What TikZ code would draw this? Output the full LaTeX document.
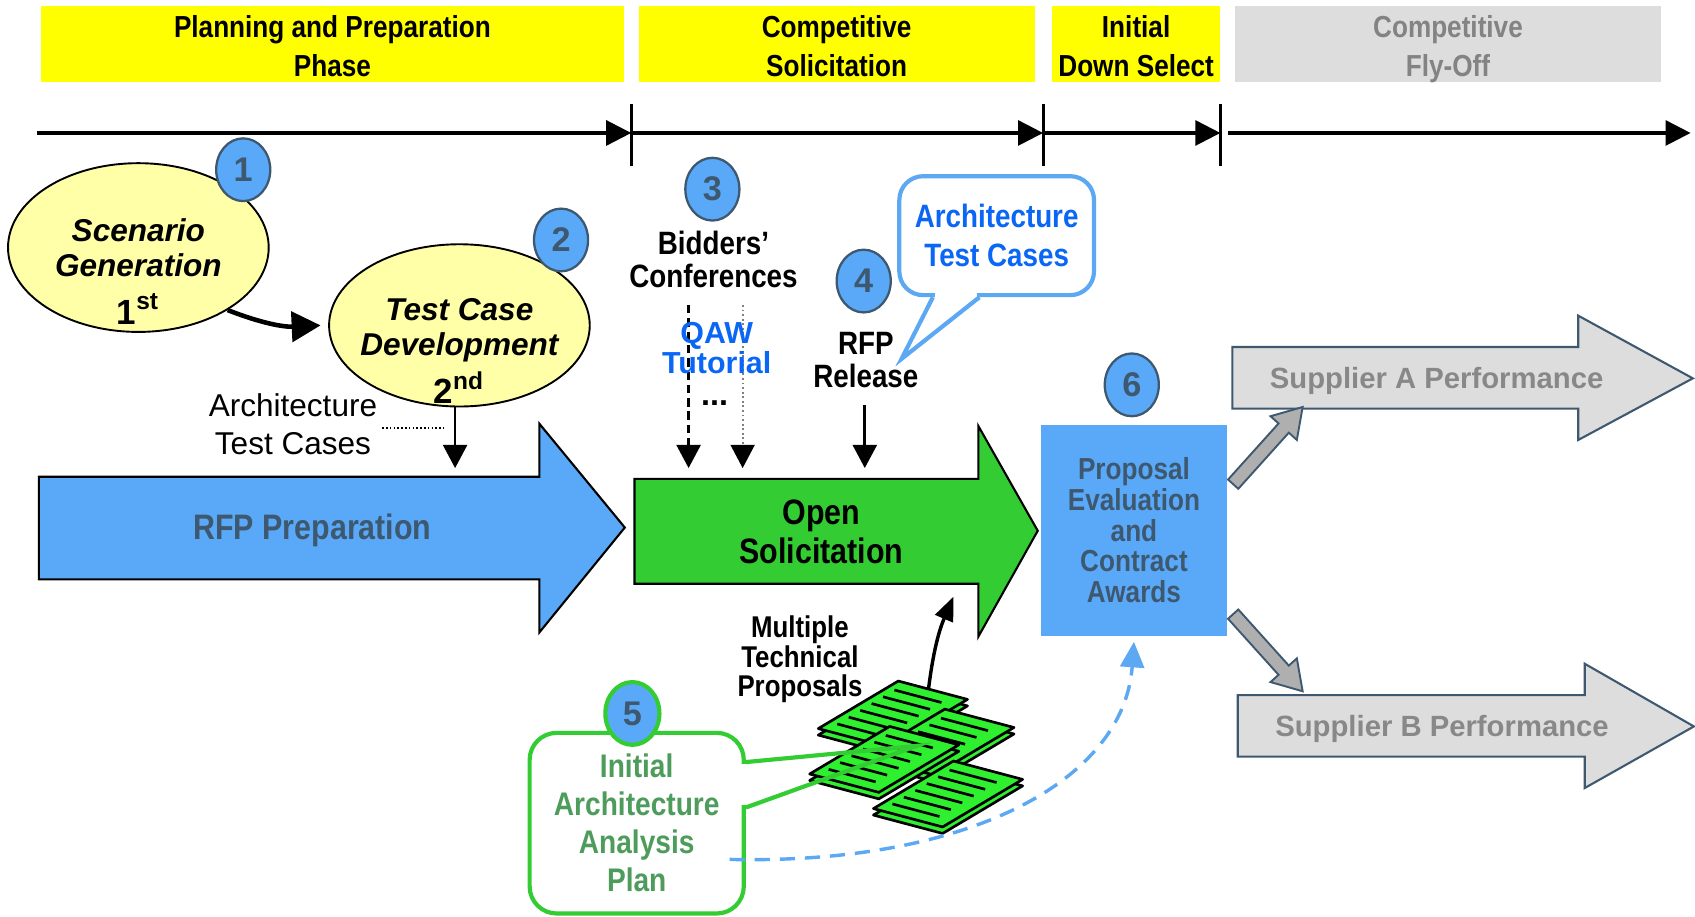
\documentclass[tikz,border=0pt]{standalone}
\usepackage{fontspec}
\setmainfont{Liberation Sans}
\newfontfamily\narrowfont{Liberation Sans}[FakeStretch=0.86]
\usetikzlibrary{arrows.meta,shapes.geometric,shapes.arrows,positioning}

\definecolor{phaseyellow}{HTML}{FFFF00}
\definecolor{flygray}{HTML}{DDDDDD}
\definecolor{flytext}{HTML}{838383}
\definecolor{supplygray}{HTML}{888888}
\definecolor{paleyellow}{HTML}{FFFFA8}
\definecolor{stepblue}{HTML}{59A9F8}
\definecolor{slate}{HTML}{3E5870}
\definecolor{solgreen}{HTML}{33CC33}
\definecolor{papergreen}{HTML}{2EF02E}
\definecolor{plangreen}{HTML}{4E9C5C}
\definecolor{linkblue}{HTML}{0A66F5}
\definecolor{bubbleblue}{HTML}{5CA8F2}
\definecolor{shaftgray}{HTML}{AFAFAF}

\tikzset{
  phase/.style={fill=phaseyellow, minimum height=0.70cm, inner sep=0pt, align=center,
    text height=17pt, text depth=0pt,
    font=\narrowfont\bfseries\fontsize{8}{10.2}\selectfont},
  num/.style={ellipse, fill=stepblue, draw=slate, line width=0.6pt, minimum width=0.50cm,
    minimum height=0.58cm, inner sep=0pt, text=slate, font=\bfseries\fontsize{9}{10}\selectfont},
  task/.style={ellipse, fill=paleyellow, draw=black, line width=0.5pt,
    minimum width=2.41cm, minimum height=1.56cm},
  tasktext/.style={align=center, inner sep=0pt, font=\bfseries\itshape\fontsize{8.3}{9.1}\selectfont},
  note/.style={align=center, inner sep=0pt, font=\narrowfont\bfseries\fontsize{8.5}{8.8}\selectfont},
  timeline/.style={line width=1pt, -{Triangle[length=6.6pt,width=6.5pt]}},
  tick/.style={line width=0.8pt},
  feed/.style={line width=0.7pt, -{Triangle[length=6.1pt,width=6.3pt]}},
  blockarrow/.style={draw=black, line width=0.55pt},
  supplier/.style={fill=flygray, draw=slate, line width=0.55pt},
  supplytext/.style={text=supplygray, inner sep=0pt, font=\bfseries\fontsize{7.7}{9}\selectfont},
  awardarrow/.style={single arrow, fill=shaftgray, draw=slate, line width=0.5pt,
    inner xsep=0pt, inner ysep=0.055cm, minimum height=0.96cm,
    single arrow head extend=0.10cm, single arrow tip angle=64},
  callout/.style={fill=white, line width=1.1pt, align=center},
  sheet/.style={fill=papergreen, draw=black, line width=0.7pt, line join=round},
  sheetrule/.style={line width=0.7pt},
}

% one green proposal sheet, #1,#2 = lower left corner
\newcommand{\papersheet}[2]{%
  \filldraw[sheet] (#1,#2+6) -- ++(74,-44) -- ++(64,17) -- ++(-74,44) -- cycle;
  \filldraw[sheet] (#1,#2) -- ++(74,-44) -- ++(64,17) -- ++(-74,44) -- cycle;
  \foreach \k in {1,...,6}
    \draw[sheetrule] ({#1+74*\k/7+7},{#2-44*\k/7+2}) -- ++(43.5,11.6);
}

\begin{document}
\begin{tikzpicture}[x=0.01cm, y=-0.01cm]
\useasboundingbox (0,0) rectangle (1568,848);

% phases
\node[phase, minimum width=5.39cm] (prep) at (307.5,41) {Planning and Preparation\\Phase};
\node[phase, minimum width=3.66cm] (solic) at (774,41) {Competitive\\Solicitation};
\node[phase, minimum width=1.56cm] (downsel) at (1051,41) {Initial\\Down Select};
\node[phase, minimum width=3.93cm, fill=flygray, text=flytext] (flyoff) at (1339.5,41) {Competitive\\Fly-Off};

% time line
\coordinate (t0) at (34,123);
\coordinate (t1) at (584,123);
\coordinate (t2) at (965,123);
\coordinate (t3) at (1129,123);
\coordinate (t4) at (1564,123);
\draw[timeline] (t0) -- (t1);
\draw[timeline] (t1) -- (t2);
\draw[timeline] (t2) -- (t3);
\draw[timeline] ([xshift=0.07cm]t3) -- (t4);
\foreach \t in {t1,t2,t3}
  \draw[tick] ([yshift=0.27cm]\t) -- ([yshift=-0.31cm]\t);

% big arrows
\draw[blockarrow, fill=stepblue] (36,441) -- (499,441) -- (499,392) -- (578,488)
  -- (499,585) -- (499,536) -- (36,536) -- cycle;
\node[text=slate, inner sep=0pt, font=\narrowfont\bfseries\fontsize{9.3}{10}\selectfont] (rfp) at (289,491) {RFP Preparation};
\draw[blockarrow, fill=solgreen] (587,443) -- (905,443) -- (905,394) -- (960,491)
  -- (905,589) -- (905,540) -- (587,540) -- cycle;
\node[note, font=\narrowfont\bfseries\fontsize{9.3}{10.5}\selectfont] (opensol) at (760,492) {Open\\Solicitation};
\draw[supplier] (1140,321) -- (1460,321) -- (1460,292) -- (1566,350)
  -- (1460,407) -- (1460,378) -- (1140,378) -- cycle;
\node[supplytext] (supa) at (1329,352) {Supplier A Performance};
\draw[supplier] (1145,643) -- (1466,643) -- (1466,614) -- (1567,672)
  -- (1466,729) -- (1466,700) -- (1145,700) -- cycle;
\node[supplytext] (supb) at (1334,674) {Supplier B Performance};

% scenario and test cases
\node[task] (scen) at (128,229) {};
\node[tasktext] (scentxt) at (128,251) {Scenario\\Generation\\[3.5pt]{\upshape\fontsize{9.2}{10}\selectfont 1\textsuperscript{st}}};
\node[task, minimum height=1.50cm] (tcd) at (425,301) {};
\node[tasktext] (tcdtxt) at (425,325) {Test Case\\Development\\[1.5pt]{\upshape\fontsize{9.2}{10}\selectfont 2\textsuperscript{nd}}};
\draw[line width=1.2pt, -{Triangle[length=7.6pt,width=7.9pt]}] (scen.-35) to[bend right=12] ([xshift=-0.07cm]tcd.west);

\node[align=center, inner sep=0pt, font=\fontsize{8.3}{10}\selectfont] (archlbl) at (271,392) {Architecture\\Test Cases};
\coordinate (rfpin) at (421,433);
\draw[feed] (tcd.south -| rfpin) -- (rfpin);
\draw[line width=0.4pt, dash pattern=on 0.4pt off 0.6pt] ([xshift=0.04cm,yshift=-0.04cm]archlbl.east) -- ++(0.57cm,0);

% bidders conferences
\node[note] (bid) at (660,240) {Bidders’\\Conferences};
\coordinate (qawtop) at ([yshift=-0.15cm]bid.south);
\coordinate (solin1) at (637,433);
\coordinate (solin2) at (687,433);
\draw[feed, dash pattern=on 2.2pt off 1.3pt] (qawtop -| solin1) -- (solin1);
\draw[line width=0.5pt, draw=gray, dash pattern=on 0.5pt off 0.7pt,
  -{Triangle[length=6.1pt,width=6.3pt,color=black]}] (qawtop -| solin2) -- (solin2);
\node[align=center, inner sep=0pt, text=linkblue, font=\bfseries\fontsize{8}{8}\selectfont] (qaw) at (663,322) {QAW\\Tutorial};
\node[inner sep=0pt, font=\bfseries\fontsize{8.5}{9}\selectfont] (dots) at (661,373) {...};

% RFP release
\node[note] (rel) at (801,333) {RFP\\Release};
\coordinate (solin3) at (800,433);
\draw[feed] ([yshift=-0.15cm]rel.south -| solin3) -- (solin3);

% architecture test cases callout
\node[callout, draw=bubbleblue, rounded corners=0.22cm, minimum width=1.80cm, minimum height=1.10cm,
  text=linkblue, font=\narrowfont\bfseries\fontsize{8.5}{10.2}\selectfont] (bubble) at (922,218) {Architecture\\Test Cases};
\coordinate (bubtip) at (834,332);
\fill[white] ([xshift=-0.57cm,yshift=0.05cm]bubble.south) rectangle ([xshift=-0.18cm,yshift=-0.03cm]bubble.south);
\draw[bubbleblue, line width=1.1pt] ([xshift=-0.59cm]bubble.south) -- (bubtip) -- ([xshift=-0.16cm]bubble.south);

% evaluation
\node[fill=stepblue, minimum width=1.72cm, minimum height=1.95cm, inner sep=0pt, align=center, text=slate,
  font=\narrowfont\bfseries\fontsize{8}{8.05}\selectfont] (prop) at (1049,490.5) {Proposal\\Evaluation\\and\\Contract\\Awards};
\node[awardarrow, rotate=48] (toa) at (1169.5,416) {};
\node[awardarrow, rotate=-48] (tob) at (1169.5,600) {};

% numbers
\node[num] (n1) at (225,157) {1};
\node[num] (n2) at (519,222) {2};
\node[num] (n3) at (659,175) {3};
\node[num] (n4) at (799,260) {4};
\node[num] (n6) at (1047,356) {6};

% proposals pile
\papersheet{757}{674}
\papersheet{800}{700}
\papersheet{749}{716}
\papersheet{808}{748}
\node[align=center, inner sep=0pt, font=\narrowfont\bfseries\fontsize{7.9}{7.7}\selectfont] (mtp) at (740,610) {Multiple\\Technical\\Proposals};
\coordinate (pile) at (859,637);
\coordinate (solin4) at (882,552);
\draw[line width=0.9pt, -{Triangle[length=6.3pt,width=5pt]}] (pile) to[bend left=8] (solin4);

% analysis plan callout
\node[callout, draw=solgreen, rounded corners=0.25cm, minimum width=1.98cm, minimum height=1.67cm,
  text=plangreen, font=\narrowfont\bfseries\fontsize{8.6}{10}\selectfont] (plan) at (589,761.5) {Initial\\Architecture\\Analysis\\Plan};
\coordinate (plantip) at (848,690);
\fill[white] ([xshift=-0.05cm,yshift=0.545cm]plan.east) rectangle ([xshift=0.03cm,yshift=0.165cm]plan.east);
\draw[solgreen, line width=1.1pt] ([yshift=0.565cm]plan.east) -- (plantip) -- ([yshift=0.145cm]plan.east);
\node[num, draw=solgreen, line width=1.1pt] (n5) at (585,660) {5};

\draw[bubbleblue, line width=0.9pt, dash pattern=on 4pt off 2.6pt, -{Triangle[length=6.7pt,width=6.3pt]}]
  ([xshift=-0.15cm,yshift=-0.335cm]plan.east) .. controls (900,800) and (1040,720) .. ([yshift=-0.05cm]prop.south);
\end{tikzpicture}
\end{document}
